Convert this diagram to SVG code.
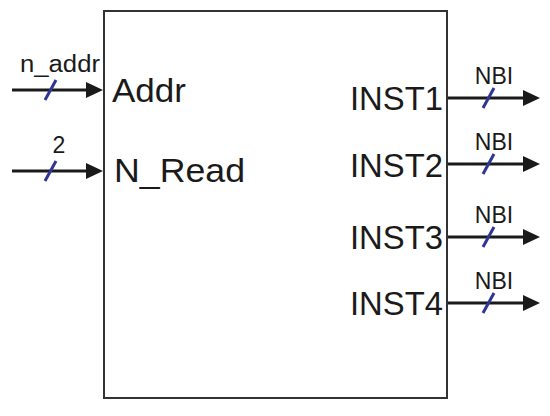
<svg xmlns="http://www.w3.org/2000/svg" width="550" height="416" viewBox="0 0 550 416">
<style>
.box{fill:#fff;stroke:#333;stroke-width:2}
.w{stroke:#1a1a1a;stroke-width:3;fill:none}
.s{stroke:#2e3592;stroke-width:3}
.big{font-family:"Liberation Sans",Arial,sans-serif;font-size:34px;fill:#1a1a1a}
.sm{font-family:"Liberation Sans",Arial,sans-serif;font-size:23px;fill:#1a1a1a;text-anchor:middle}
.ah{fill:#1a1a1a}
</style>
<rect width="550" height="416" fill="#fff"/>
<g id="block">
<rect class="box" x="104" y="11" width="343" height="387"/>
<text class="big" x="112" y="102" textLength="74" lengthAdjust="spacingAndGlyphs">Addr</text>
<text class="big" x="114" y="182" textLength="131" lengthAdjust="spacingAndGlyphs">N_Read</text>
<text class="big" x="443" y="110" text-anchor="end" textLength="93" lengthAdjust="spacingAndGlyphs">INST1</text>
<text class="big" x="443" y="177" text-anchor="end" textLength="93" lengthAdjust="spacingAndGlyphs">INST2</text>
<text class="big" x="443" y="249" text-anchor="end" textLength="93" lengthAdjust="spacingAndGlyphs">INST3</text>
<text class="big" x="443" y="315" text-anchor="end" textLength="93" lengthAdjust="spacingAndGlyphs">INST4</text>
</g>
<g id="connectors">
<line class="w" x1="12" y1="90" x2="88" y2="90"/>
<polygon class="ah" points="86,82 103,90 86,98"/>
<line class="s" x1="45" y1="100" x2="56" y2="80"/>
<text class="sm" x="60" y="72" textLength="80" lengthAdjust="spacingAndGlyphs">n_addr</text>
<line class="w" x1="12" y1="171" x2="88" y2="171"/>
<polygon class="ah" points="86,163 103,171 86,179"/>
<line class="s" x1="45" y1="181" x2="56" y2="161"/>
<text class="sm" x="59" y="153">2</text>
<line class="w" x1="448" y1="98" x2="525" y2="98"/>
<polygon class="ah" points="523,90 540,98 523,106"/>
<line class="s" x1="483" y1="108" x2="494" y2="88"/>
<text class="sm" x="494" y="84">NBI</text>
<line class="w" x1="448" y1="164" x2="525" y2="164"/>
<polygon class="ah" points="523,156 540,164 523,172"/>
<line class="s" x1="483" y1="174" x2="494" y2="154"/>
<text class="sm" x="494" y="150">NBI</text>
<line class="w" x1="448" y1="237" x2="525" y2="237"/>
<polygon class="ah" points="523,229 540,237 523,245"/>
<line class="s" x1="483" y1="247" x2="494" y2="227"/>
<text class="sm" x="494" y="223">NBI</text>
<line class="w" x1="448" y1="303" x2="525" y2="303"/>
<polygon class="ah" points="523,295 540,303 523,311"/>
<line class="s" x1="483" y1="313" x2="494" y2="293"/>
<text class="sm" x="494" y="289">NBI</text>
</g>
</svg>
